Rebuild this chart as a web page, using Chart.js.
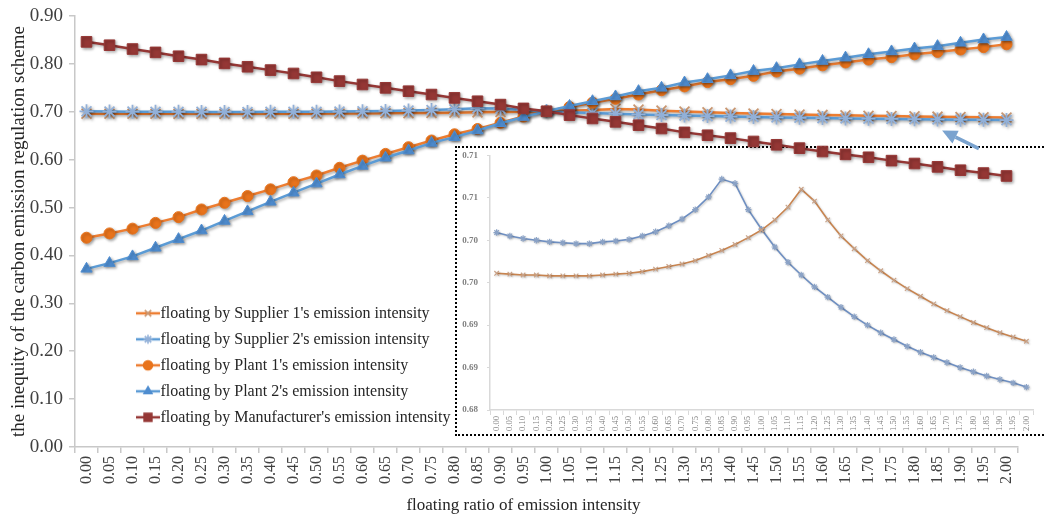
<!DOCTYPE html>
<html>
<head>
<meta charset="utf-8">
<script src="https://cdn.jsdelivr.net/npm/chart.js@4.4.1/dist/chart.umd.min.js"></script>
<style>
  html, body { margin: 0; padding: 0; background: #fff; overflow: hidden; }
  #wrap { position: relative; width: 1046px; height: 517px; }
  #mainChart { position: absolute; left: 0; top: 0; z-index: 2; }
  #inset { position: absolute; left: 455px; top: 146px; width: 600px; height: 290px;
           border: 2px dotted #000; box-sizing: border-box; background: #fff; z-index: 1; }
  #insetChart { display: block; }
</style>
</head>
<body>
<div id="wrap">
  <div id="inset"><canvas id="insetChart" width="596" height="286"></canvas></div>
  <canvas id="mainChart" width="1046" height="517"></canvas>
</div>
<script>
// floating ratio (x categories)
var categories = ['0.00', '0.05', '0.10', '0.15', '0.20', '0.25', '0.30', '0.35', '0.40', '0.45',
  '0.50', '0.55', '0.60', '0.65', '0.70', '0.75', '0.80', '0.85', '0.90', '0.95',
  '1.00', '1.05', '1.10', '1.15', '1.20', '1.25', '1.30', '1.35', '1.40', '1.45',
  '1.50', '1.55', '1.60', '1.65', '1.70', '1.75', '1.80', '1.85', '1.90', '1.95', '2.00'];

var supplier1 = [0.6961, 0.6960, 0.6959, 0.6959, 0.6958, 0.6958, 0.6958, 0.6958, 0.6959, 0.6960,
  0.6961, 0.6963, 0.6966, 0.6969, 0.6972, 0.6976, 0.6982, 0.6988, 0.6995, 0.7003,
  0.7012, 0.7024, 0.7039, 0.7060, 0.7046, 0.7024, 0.7005, 0.6990, 0.6976, 0.6964,
  0.6953, 0.6943, 0.6934, 0.6925, 0.6917, 0.6910, 0.6903, 0.6897, 0.6891, 0.6886, 0.6881];

var supplier2 = [0.7009, 0.7005, 0.7002, 0.7000, 0.6998, 0.6997, 0.6996, 0.6996, 0.6998, 0.6999,
  0.7001, 0.7005, 0.7010, 0.7017, 0.7025, 0.7036, 0.7051, 0.7072, 0.7067, 0.7036,
  0.7013, 0.6992, 0.6974, 0.6959, 0.6945, 0.6933, 0.6921, 0.6910, 0.6900, 0.6891,
  0.6883, 0.6875, 0.6868, 0.6862, 0.6856, 0.6850, 0.6845, 0.6840, 0.6836, 0.6832, 0.6827];

var plant1 = [0.437, 0.446, 0.456, 0.468, 0.480, 0.496, 0.510, 0.524, 0.538, 0.553,
  0.567, 0.583, 0.598, 0.612, 0.626, 0.640, 0.653, 0.664, 0.677, 0.690,
  0.701, 0.710, 0.719, 0.727, 0.736, 0.745, 0.753, 0.762, 0.768, 0.775,
  0.784, 0.790, 0.797, 0.803, 0.809, 0.814, 0.820, 0.825, 0.830, 0.835, 0.841];

var plant2 = [0.372, 0.384, 0.398, 0.416, 0.434, 0.452, 0.472, 0.492, 0.512, 0.531,
  0.550, 0.569, 0.587, 0.604, 0.619, 0.635, 0.647, 0.661, 0.676, 0.689,
  0.701, 0.712, 0.722, 0.732, 0.743, 0.750, 0.761, 0.768, 0.776, 0.785,
  0.791, 0.799, 0.806, 0.813, 0.820, 0.826, 0.832, 0.837, 0.844, 0.851, 0.856];

var manufacturer = [0.846, 0.839, 0.831, 0.824, 0.816, 0.809, 0.801, 0.794, 0.787, 0.780,
  0.772, 0.764, 0.757, 0.750, 0.743, 0.736, 0.729, 0.722, 0.715, 0.707,
  0.701, 0.693, 0.686, 0.679, 0.672, 0.665, 0.657, 0.651, 0.645, 0.638,
  0.631, 0.624, 0.617, 0.611, 0.605, 0.598, 0.592, 0.585, 0.578, 0.572, 0.566];

var yTickLabels = ['0.00', '0.10', '0.20', '0.30', '0.40', '0.50', '0.60', '0.70', '0.80', '0.90'];
var insetTickLabels = ['0.68', '0.69', '0.69', '0.70', '0.70', '0.71', '0.71'];

var serif = '"Liberation Serif", "Times New Roman", serif';

// excel-like soft shadow under each series
var shadow = {
  id: 'shadow',
  beforeDatasetDraw: function(chart, args, o) {
    var c = chart.ctx;
    c.save();
    c.shadowColor = o.color;
    c.shadowBlur = o.blur;
    c.shadowOffsetX = o.dx;
    c.shadowOffsetY = o.dy;
  },
  afterDatasetDraw: function(chart) {
    chart.ctx.restore();
  }
};

// put the legend box inside the plot, lower left
var moveLegend = {
  id: 'moveLegend',
  afterLayout: function(chart, args, o) {
    var lg = chart.legend;
    lg.left = o.left;
    lg.top = o.top;
    lg.right = lg.left + lg.width;
    lg.bottom = lg.top + 170;
  }
};

// x axis title, centred under the 0.95 category like the original
var xTitle = {
  id: 'xTitle',
  afterDraw: function(chart, args, o) {
    var c = chart.ctx, x = chart.scales.x;
    c.save();
    c.font = o.size + 'px ' + serif;
    c.fillStyle = o.color;
    c.textAlign = 'center';
    c.textBaseline = 'middle';
    c.fillText(o.text, x.getPixelForValue(o.at), x.bottom - o.fromBottom);
    c.restore();
  }
};

// the little arrow pointing from the inset to the supplier lines
var arrow = {
  id: 'arrow',
  afterDraw: function(chart, args, o) {
    var x = chart.scales.x, y = chart.scales.y, c = chart.ctx;
    var tx = x.getPixelForValue(o.tip[0]), ty = y.getPixelForValue(o.tip[1]);
    var sx = x.getPixelForValue(o.tail[0]), sy = y.getPixelForValue(o.tail[1]);
    var a = Math.atan2(ty - sy, tx - sx), L = 15, W = 7;
    var bx = tx - L * Math.cos(a), by = ty - L * Math.sin(a);
    c.save();
    c.strokeStyle = o.color;
    c.fillStyle = o.color;
    c.lineWidth = 3.5;
    c.beginPath();
    c.moveTo(sx, sy);
    c.lineTo(bx, by);
    c.stroke();
    c.beginPath();
    c.moveTo(tx, ty);
    c.lineTo(bx + W * Math.sin(a), by - W * Math.cos(a));
    c.lineTo(bx - W * Math.sin(a), by + W * Math.cos(a));
    c.closePath();
    c.fill();
    c.restore();
  }
};

function marker(g, style, x, y, r, color) {
  g.fillStyle = color;
  g.strokeStyle = color;
  g.lineWidth = 1.6;
  Chart.helpers.drawPoint(g, {pointStyle: style, radius: r, rotation: 0, borderWidth: 1.6}, x, y);
}

function makeIcon(lineColor, markColor, style, r) {
  var c = document.createElement('canvas');
  c.width = 24;
  c.height = 16;
  var g = c.getContext('2d');
  g.strokeStyle = lineColor;
  g.lineWidth = 2.5;
  g.beginPath();
  g.moveTo(0, 8);
  g.lineTo(24, 8);
  g.stroke();
  marker(g, style, 12, 8, r, markColor);
  return c;
}

var styles = [
  {label: "floating by Supplier 1's emission intensity", data: supplier1, line: '#ED7D31', mark: '#C99670', shape: 'crossRot', r: 7, order: 5},
  {label: "floating by Supplier 2's emission intensity", data: supplier2, line: '#5B9BD5', mark: '#92B0D8', shape: 'star', r: 7, order: 4},
  {label: "floating by Plant 1's emission intensity", data: plant1, line: '#ED7D31', mark: '#E8731C', shape: 'circle', r: 5.5, order: 3},
  {label: "floating by Plant 2's emission intensity", data: plant2, line: '#5B9BD5', mark: '#4F8DD0', shape: 'triangle', r: 6.5, order: 2},
  {label: "floating by Manufacturer's emission intensity", data: manufacturer, line: '#953735', mark: '#953735', shape: 'rect', r: 7.5, order: 1}
];

var icons = styles.map(function(s) {
  return makeIcon(s.line, s.mark, s.shape, s.shape === 'rect' ? 5.5 : 4.5);
});

var mainSets = styles.map(function(s) {
  return {
    label: s.label,
    data: s.data,
    borderColor: s.line,
    borderWidth: 2.5,
    pointStyle: s.shape,
    pointRadius: s.r,
    pointBorderWidth: s.shape === 'crossRot' || s.shape === 'star' ? 1.8 : 1,
    pointBorderColor: s.mark,
    pointBackgroundColor: s.mark,
    tension: 0,
    order: s.order
  };
});

var axisGrey = '#c8c8c8';

new Chart(document.getElementById('mainChart'), {
  type: 'line',
  data: { labels: categories, datasets: mainSets },
  plugins: [shadow, moveLegend, xTitle, arrow],
  options: {
    responsive: false,
    animation: false,
    events: [],
    layout: { padding: { left: 0, top: 16, right: 28, bottom: 0 } },
    plugins: {
      tooltip: { enabled: false },
      shadow: { color: 'rgba(0,0,0,0.35)', blur: 3, dx: 1.5, dy: 1.5 },
      moveLegend: { left: 133.5, top: 295.3 },
      xTitle: { text: 'floating ratio of emission intensity', at: 19, fromBottom: 11, size: 17, color: '#262626' },
      arrow: { tip: [37.2, 0.661], tail: [38.8, 0.623], color: '#7AA3CF' },
      legend: {
        position: 'chartArea',
        align: 'start',
        labels: {
          font: { family: serif, size: 16 },
          color: '#262626',
          padding: 10,
          usePointStyle: true,
          pointStyleWidth: 9,
          generateLabels: function(chart) {
            return chart.data.datasets.map(function(ds, i) {
              return { text: ds.label, pointStyle: icons[i], fillStyle: ds.borderColor,
                       strokeStyle: ds.borderColor, lineWidth: 0, hidden: false,
                       datasetIndex: i, fontColor: '#262626' };
            });
          }
        }
      }
    },
    scales: {
      x: {
        offset: true,
        grid: { offset: true, drawOnChartArea: false, tickLength: 6, color: axisGrey, lineWidth: 1.5 },
        border: { color: axisGrey, width: 1.5 },
        ticks: { autoSkip: false, maxRotation: 90, minRotation: 90, padding: 3,
                 font: { family: serif, size: 16 }, color: '#404040' },
        afterFit: function(s) { s.height = 70; }
      },
      y: {
        min: 0,
        max: 0.9,
        grid: { drawOnChartArea: false, tickLength: 6, color: axisGrey, lineWidth: 1.5 },
        border: { color: axisGrey, width: 1.5 },
        ticks: { stepSize: 0.1, padding: 6, font: { family: serif, size: 19 }, color: '#404040',
                 callback: function(v) { return yTickLabels[Math.round(v / 0.1)]; } },
        title: { display: true, text: 'the inequity of the carbon emission regulation scheme',
                 font: { family: serif, size: 19 }, color: '#262626', padding: { top: 8, bottom: 0 } },
        afterFit: function(s) { s.width = 75; s.paddingTop = 0; s.paddingBottom = 0; }
      }
    }
  }
});

// zoomed inset of the two supplier series
new Chart(document.getElementById('insetChart'), {
  type: 'line',
  data: {
    labels: categories,
    datasets: [
      { label: styles[0].label, data: supplier1, borderColor: '#C8844F', borderWidth: 1.6,
        pointStyle: 'crossRot', pointRadius: 3.2, pointBorderWidth: 1.2,
        pointBorderColor: '#C9A287', pointBackgroundColor: '#C9A287', tension: 0 },
      { label: styles[1].label, data: supplier2, borderColor: '#6E8FC2', borderWidth: 1.6,
        pointStyle: 'star', pointRadius: 3.2, pointBorderWidth: 1.2,
        pointBorderColor: '#8AA2C6', pointBackgroundColor: '#8AA2C6', tension: 0 }
    ]
  },
  plugins: [shadow],
  options: {
    responsive: false,
    animation: false,
    events: [],
    layout: { padding: { left: 0, top: 7.3, right: 20, bottom: 0 } },
    plugins: {
      legend: { display: false },
      tooltip: { enabled: false },
      shadow: { color: 'rgba(0,0,0,0.22)', blur: 2, dx: 1, dy: 1 }
    },
    scales: {
      x: {
        offset: true,
        grid: { offset: true, drawOnChartArea: false, tickLength: 5, color: '#d9d9d9' },
        border: { color: '#d9d9d9', width: 1.5 },
        ticks: { autoSkip: false, maxRotation: 90, minRotation: 90, padding: 1,
                 font: { family: serif, size: 8.5 }, color: '#7f7f7f' },
        afterFit: function(s) { s.height = 24; }
      },
      y: {
        min: 0.68,
        max: 0.71,
        grid: { drawOnChartArea: false, tickLength: 3, color: '#d9d9d9' },
        border: { color: '#d9d9d9', width: 1.5 },
        ticks: { stepSize: 0.005, padding: 9, font: { family: serif, size: 9, weight: 'bold' }, color: '#7f7f7f',
                 callback: function(v) { return insetTickLabels[Math.round((v - 0.68) / 0.005)]; } },
        afterFit: function(s) { s.width = 33; s.paddingTop = 0; s.paddingBottom = 0; }
      }
    }
  }
});
</script>
</body>
</html>
